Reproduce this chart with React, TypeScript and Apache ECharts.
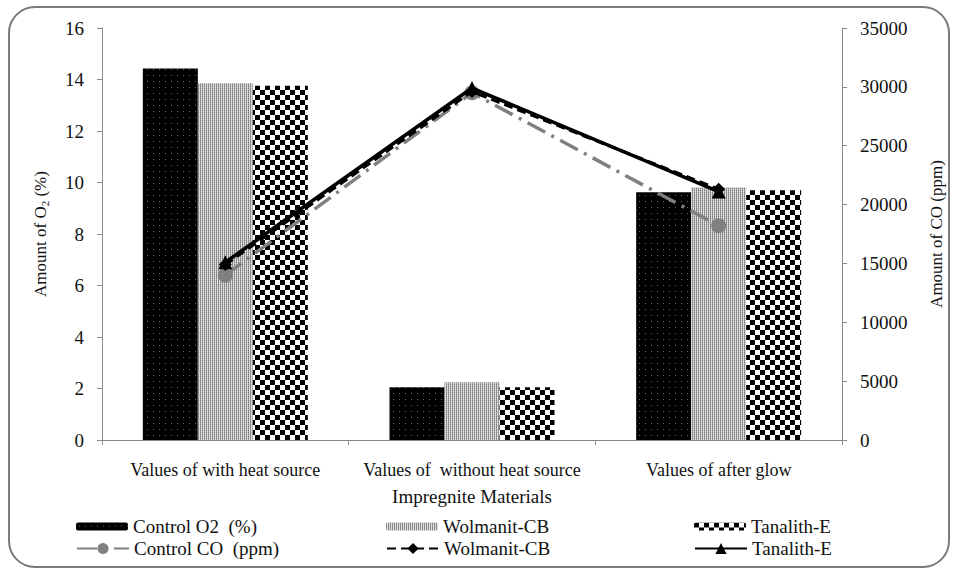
import React, { useEffect, useRef } from 'react';
import * as echarts from 'echarts';

const categories = ['Values of with heat source', 'Values of  without heat source', 'Values of after glow'];
const controlO2 = [14.43, 2.05, 9.62];
const wolmanitO2 = [13.85, 2.24, 9.81];
const tanalithO2 = [13.76, 2.05, 9.7];
const controlCO = [14000, 29500, 18200];
const wolmanitCO = [14900, 29600, 21300];
const tanalithCO = [15100, 29900, 21100];
const leftTicks = { min: 0, max: 16, interval: 2 };
const rightTicks = { min: 0, max: 35000, interval: 5000 };
const legendLabels: Record<string, string> = {
  'Control O2  (%)': 'Control O2  (%)',
  'Wolmanit-CB': 'Wolmanit-CB',
  'Tanalith-E': 'Tanalith-E',
  'Control CO  (ppm)': 'Control CO  (ppm)',
  'Wolmanit-CB CO': 'Wolmanit-CB',
  'Tanalith-E CO': 'Tanalith-E',
};

const FONT = 'Liberation Serif';

function makeTile(w: number, h: number, draw: (ctx: CanvasRenderingContext2D) => void) {
  const c = document.createElement('canvas');
  c.width = w;
  c.height = h;
  const ctx = c.getContext('2d') as CanvasRenderingContext2D;
  draw(ctx);
  return c;
}

export default function App() {
  const ref = useRef<HTMLDivElement>(null);
  useEffect(() => {
    document.body.style.margin = '0';
    const chart = echarts.init(ref.current as HTMLDivElement, null, { renderer: 'svg' });

    const blackTile = makeTile(6, 6, (ctx) => {
      ctx.fillStyle = '#000';
      ctx.fillRect(0, 0, 6, 6);
      ctx.fillStyle = '#6a6a6a';
      ctx.fillRect(3, 3, 1, 1);
    });
    const greyTile = makeTile(2, 2, (ctx) => {
      ctx.fillStyle = '#7c7c7c';
      ctx.fillRect(0, 0, 1, 1);
      ctx.fillStyle = '#d4d4d4';
      ctx.fillRect(1, 0, 1, 1);
      ctx.fillStyle = '#9a9a9a';
      ctx.fillRect(0, 1, 1, 1);
      ctx.fillStyle = '#e2e2e2';
      ctx.fillRect(1, 1, 1, 1);
    });
    const checkTile = makeTile(10, 10, (ctx) => {
      ctx.fillStyle = '#fff';
      ctx.fillRect(0, 0, 10, 10);
      ctx.fillStyle = '#000';
      ctx.fillRect(0, 0, 5, 5);
      ctx.fillRect(5, 5, 5, 5);
    });

    const axisLineStyle = { color: '#8a8a8a', width: 1 };
    const serifRich = { t: { fontFamily: FONT, fontSize: 19, color: '#111' } };

    const mkLegend = (name: string, left: number, top: number, itemHeight: number) => ({
      data: [name],
      left,
      top,
      orient: 'horizontal',
      itemWidth: 52,
      itemHeight,
      itemGap: 0,
      selectedMode: false,
      padding: 0,
      formatter: (n: string) => '{t|' + (legendLabels[n] ?? n) + '}',
      textStyle: { fontFamily: FONT, fontSize: 19, color: '#111', rich: serifRich },
    });

    chart.setOption({
      animation: false,
      backgroundColor: '#fff',
      textStyle: { fontFamily: FONT },
      grid: { left: 102, right: 110, top: 28, bottom: 129 },
      graphic: [
        {
          type: 'rect',
          shape: { x: 9, y: 7, width: 940, height: 560, r: 26 },
          style: { fill: 'none', stroke: '#7a7a7a', lineWidth: 2 },
          silent: true,
        },
      ],
      legend: [
        mkLegend('Control O2  (%)', 76, 517, 8),
        mkLegend('Wolmanit-CB', 386, 517, 8),
        mkLegend('Tanalith-E', 694, 517, 8),
        mkLegend('Control CO  (ppm)', 76, 539, 14),
        mkLegend('Wolmanit-CB CO', 386, 539, 14),
        mkLegend('Tanalith-E CO', 694, 539, 14),
      ],
      xAxis: {
        type: 'category',
        data: categories,
        name: 'Impregnite Materials',
        nameLocation: 'middle',
        nameGap: 47,
        nameTextStyle: { fontFamily: FONT, fontSize: 19, color: '#111' },
        axisLine: { lineStyle: axisLineStyle },
        axisTick: { show: true, length: 5, lineStyle: axisLineStyle },
        axisLabel: { fontFamily: FONT, fontSize: 18, color: '#111', margin: 21, interval: 0 },
        splitLine: { show: false },
      },
      yAxis: [
        {
          type: 'value',
          ...leftTicks,
          position: 'left',
          name: '{a|Amount of O}{s|2}{a| (%)}',
          nameLocation: 'middle',
          nameRotate: 90,
          nameGap: 52,
          nameTextStyle: {
            rich: {
              a: { fontFamily: FONT, fontSize: 17, color: '#111', lineHeight: 20 },
              s: { fontFamily: FONT, fontSize: 11, color: '#111', padding: [9, 0, 0, 0] },
            },
          },
          axisLine: { show: true, lineStyle: axisLineStyle },
          axisTick: { show: true, length: 5, lineStyle: axisLineStyle },
          axisLabel: {
            fontFamily: FONT,
            fontSize: 19,
            color: '#111',
            margin: 18,
            formatter: (v: number) => '{t|' + v + '}',
            rich: serifRich,
          },
          splitLine: { show: false },
        },
        {
          type: 'value',
          ...rightTicks,
          position: 'right',
          name: 'Amount of CO (ppm)',
          nameLocation: 'middle',
          nameRotate: 90,
          nameGap: 86,
          nameTextStyle: { fontFamily: FONT, fontSize: 17, color: '#111' },
          axisLine: { show: true, lineStyle: axisLineStyle },
          axisTick: { show: true, length: 5, lineStyle: axisLineStyle },
          axisLabel: {
            fontFamily: FONT,
            fontSize: 19,
            color: '#111',
            margin: 18,
            formatter: (v: number) => '{t|' + v + '}',
            rich: serifRich,
          },
          splitLine: { show: false },
        },
      ],
      series: [
        {
          name: 'Control O2  (%)',
          type: 'bar',
          data: controlO2,
          barWidth: 55,
          barGap: '0%',
          itemStyle: { color: { image: blackTile, repeat: 'repeat' } },
        },
        {
          name: 'Wolmanit-CB',
          type: 'bar',
          data: wolmanitO2,
          barWidth: 55,
          barGap: '0%',
          itemStyle: { color: { image: greyTile, repeat: 'repeat' } },
        },
        {
          name: 'Tanalith-E',
          type: 'bar',
          data: tanalithO2,
          barWidth: 55,
          barGap: '0%',
          itemStyle: { color: { image: checkTile, repeat: 'repeat' } },
        },
        {
          name: 'Control CO  (ppm)',
          type: 'line',
          yAxisIndex: 1,
          data: controlCO,
          symbol: 'circle',
          symbolSize: 15,
          z: 3,
          lineStyle: { color: '#808080', width: 3.5, type: [20, 7, 3, 7] },
          itemStyle: { color: '#808080' },
        },
        {
          name: 'Wolmanit-CB CO',
          type: 'line',
          yAxisIndex: 1,
          data: wolmanitCO,
          symbol: 'diamond',
          symbolSize: 13,
          z: 4,
          lineStyle: { color: '#000', width: 3, type: [9, 5] },
          itemStyle: { color: '#000' },
        },
        {
          name: 'Tanalith-E CO',
          type: 'line',
          yAxisIndex: 1,
          data: tanalithCO,
          symbol: 'triangle',
          symbolSize: 14,
          z: 5,
          lineStyle: { color: '#000', width: 3.5, type: 'solid' },
          itemStyle: { color: '#000' },
        },
      ],
    });
    return () => chart.dispose();
  }, []);
  return <div ref={ref} style={{ width: 953, height: 569 }} />;
}
